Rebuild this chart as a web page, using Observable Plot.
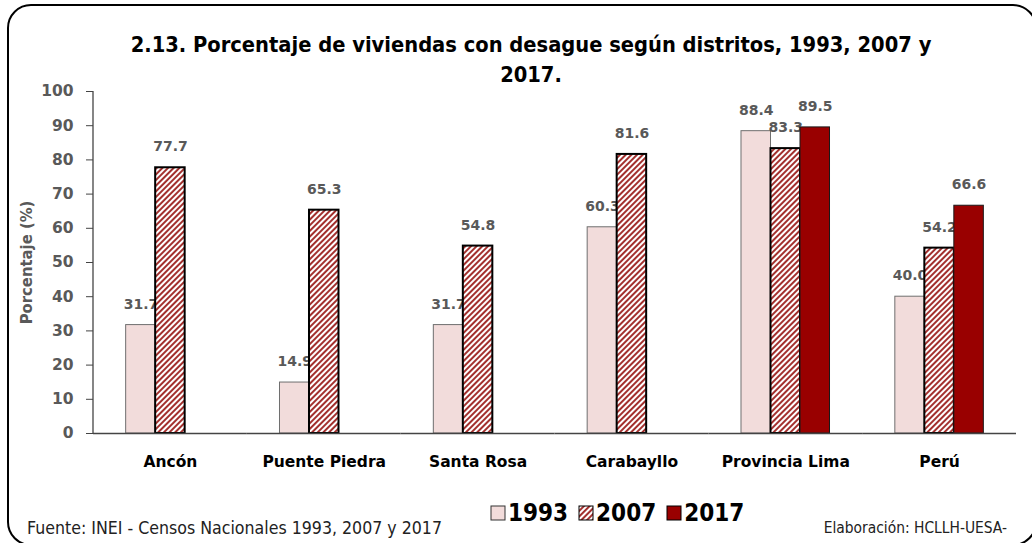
<!DOCTYPE html>
<html><head><meta charset="utf-8">
<script src="https://cdn.jsdelivr.net/npm/d3@7"></script>
<script src="https://cdn.jsdelivr.net/npm/@observablehq/plot@0.6"></script>
<style>
body{margin:0;background:#fff;}
#wrap{position:relative;width:1032px;height:543px;overflow:hidden;background:#fff;font-family:'Liberation Sans Narrow','DejaVu Sans Condensed',sans-serif;}
#frame{position:absolute;left:7px;top:4px;width:1030px;height:542px;border:2px solid #000;border-radius:24px;box-sizing:border-box;}
#title{position:absolute;left:0;top:30px;width:1062px;text-align:center;font-weight:bold;font-size:21.7px;line-height:30px;color:#000;}
#chart{position:absolute;left:0;top:80px;}
#legend{position:absolute;left:490px;top:498px;height:30px;display:flex;align-items:center;font-weight:bold;font-size:24px;color:#000;}
#legend .it{display:flex;align-items:center;margin-right:10px;}
#legend svg{margin-right:2px;}
#source{position:absolute;left:27px;top:517px;font-size:17.6px;line-height:22px;color:#222;}
#credit{position:absolute;right:25px;top:517px;font-size:15.4px;line-height:22px;color:#222;}
</style></head><body>
<div id="wrap">
<div id="frame"></div>
<div id="title">2.13. Porcentaje de viviendas con desague según distritos, 1993, 2007 y<br>2017.</div>
<div id="chart"></div>
<div id="legend"></div>
<div id="source">Fuente: INEI - Censos Nacionales 1993, 2007 y 2017</div>
<div id="credit">Elaboración: HCLLH-UESA-</div>
</div>
<script>
const categories = ["Ancón", "Puente Piedra", "Santa Rosa", "Carabayllo", "Provincia Lima", "Perú"];
const years = ["1993", "2007", "2017"];
const v1993 = [31.7, 14.9, 31.7, 60.3, 88.4, 40.0];
const v2007 = [77.7, 65.3, 54.8, 81.6, 83.3, 54.2];
const v2017 = [null, null, null, null, 89.5, 66.6];
const yTicks = [0, 10, 20, 30, 40, 50, 60, 70, 80, 90, 100];
const yLabel = "Porcentaje (%)";

const seriesValues = {"1993": v1993, "2007": v2007, "2017": v2017};
const styles = {
  "1993": {fill: "#f2dcdb", stroke: "#6f6f6f", strokeWidth: 1},
  "2007": {fill: "url(#hatch)", stroke: "#000", strokeWidth: 2},
  "2017": {fill: "#990000", stroke: "#1a1a1a", strokeWidth: 1}
};
const labelFont = "'DejaVu Sans', Verdana, sans-serif";

const marks = [];
for (const yr of years) {
  const rows = categories.map((c, i) => ({cat: c, year: yr, value: seriesValues[yr][i]})).filter(d => d.value != null);
  marks.push(Plot.barY(rows, {fx: "cat", x: "year", y: "value", ...styles[yr]}));
  marks.push(Plot.text(rows, {fx: "cat", x: "year", y: "value", text: d => d.value.toFixed(1), dy: -21,
    fill: "#595959", fontWeight: "bold", fontSize: 14, fontFamily: labelFont}));
}
marks.push(Plot.ruleY([0], {stroke: "#444", strokeWidth: 1.3}));
marks.push(Plot.axisY(yTicks, {tickSize: 7, tickPadding: 13, fontSize: 15.5, fontWeight: "bold", fill: "#595959", stroke: "#444",
  label: yLabel, labelAnchor: "center", labelOffset: 73}));
marks.push(Plot.axisFx({anchor: "bottom", tickSize: 0, tickPadding: 22, label: null, fontSize: 15.5, fontWeight: "bold", fill: "#000", fontFamily: labelFont}));

const plot = Plot.plot({
  width: 1032, height: 400,
  marginLeft: 93, marginRight: 16, marginTop: 11, marginBottom: 47,
  style: {fontFamily: labelFont, background: "transparent"},
  fx: {domain: categories, padding: 0, round: false, axis: null},
  x: {domain: years, paddingInner: 0, paddingOuter: 1.107, round: false, axis: null},
  y: {domain: [0, 100], axis: null},
  marks
});

const svg = d3.select(plot);
svg.insert("defs", ":first-child").html(
  '<pattern id="hatch" width="4" height="4" patternUnits="userSpaceOnUse" patternTransform="rotate(45)">' +
  '<rect width="4" height="4" fill="#ffffff"/><rect width="2" height="4" fill="#a3302e"/></pattern>');
// y axis line drawn with the plot's own y scale
const ys = plot.scale("y");
svg.append("line").attr("x1", 93).attr("x2", 93).attr("y1", ys.apply(0)).attr("y2", ys.apply(100))
  .attr("stroke", "#444").attr("stroke-width", 1.3);
svg.selectAll('[aria-label="y-axis label"] text')
  .text(yLabel)
  .style("font-family", "'Liberation Sans Narrow','DejaVu Sans Condensed',sans-serif")
  .style("font-size", "16.5px").attr("fill", "#595959");
document.getElementById("chart").appendChild(plot);

// legend
const leg = d3.select("#legend");
for (const yr of years) {
  const it = leg.append("div").attr("class", "it");
  const s = it.append("svg").attr("width", 16).attr("height", 16);
  if (yr === "2007") {
    s.append("defs").html('<pattern id="hatchL" width="4" height="4" patternUnits="userSpaceOnUse" patternTransform="rotate(45)"><rect width="4" height="4" fill="#fff"/><rect width="2" height="4" fill="#a3302e"/></pattern>');
  }
  s.append("rect").attr("x", 1).attr("y", 1).attr("width", 14).attr("height", 14)
    .attr("fill", yr === "2007" ? "url(#hatchL)" : styles[yr].fill)
    .attr("stroke", yr === "1993" ? "#333" : "#000").attr("stroke-width", 1);
  it.append("span").text(yr);
}
</script>
</body></html>
